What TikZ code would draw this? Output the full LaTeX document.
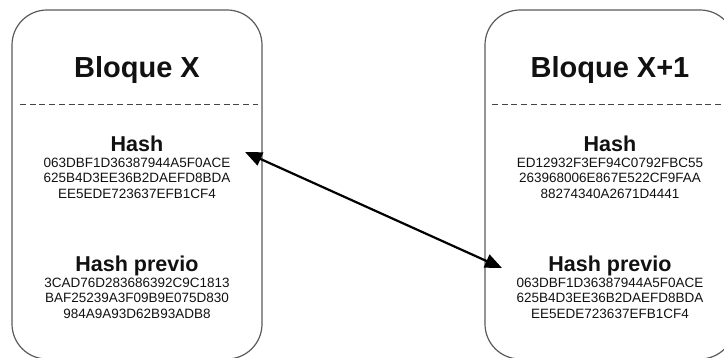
\documentclass[tikz,border=0pt]{standalone}
\usepackage{fontspec}
\setmainfont{Liberation Sans}
\usetikzlibrary{arrows.meta}
\definecolor{boxgray}{HTML}{5A5A5A}
\definecolor{dashgray}{HTML}{444444}
\definecolor{txt}{HTML}{111111}
\tikzset{
  blockbox/.style={draw=boxgray, line width=1.2pt, rounded corners=35pt},
  sepline/.style={draw=dashgray, line width=0.9pt, dash pattern=on 6pt off 3.7pt},
  titletext/.style={anchor=base, inner sep=0pt, text=txt, font=\fontsize{29}{33}\selectfont\bfseries},
  headtext/.style={anchor=base, inner sep=0pt, text=txt, font=\fontsize{21.5}{25}\selectfont\bfseries},
  hashtext/.style={anchor=base, inner sep=0pt, text=txt, align=center, font=\fontsize{13.5}{15.2}\selectfont},
  linkarrow/.style={line width=2.2pt, {Triangle[length=17pt,width=14pt]}-{Triangle[length=17pt,width=14pt]}}
}
\begin{document}
\begin{tikzpicture}[x=1pt,y=-1pt]
\useasboundingbox (0,0) rectangle (724,358);
\clip (0,0) rectangle (724,358);
% left block
\draw[blockbox] (12,10) rectangle (262,359);
\draw[sepline] (20,104) -- (258,104);
\node[titletext] (t1) at (137,78) {Bloque X};
\node[headtext] (h1) at (137,152) {Hash};
\node[hashtext, anchor=north] (v1) at (137,158) {063DBF1D36387944A5F0ACE\\625B4D3EE36B2DAEFD8BDA\\EE5EDE723637EFB1CF4};
\node[headtext] (p1) at (137,272) {Hash previo};
\node[hashtext, anchor=north] (w1) at (137,278) {3CAD76D283686392C9C1813\\BAF25239A3F09B9E075D830\\984A9A93D62B93ADB8};
% right block
\draw[blockbox] (485,10) rectangle (735,359);
\draw[sepline] (492,104) -- (724,104);
\node[titletext] (t2) at (610,78) {Bloque X+1};
\node[headtext] (h2) at (610,152) {Hash};
\node[hashtext, anchor=north] (v2) at (610,158) {ED12932F3EF94C0792FBC55\\263968006E867E522CF9FAA\\88274340A2671D4441};
\node[headtext] (p2) at (610,272) {Hash previo};
\node[hashtext, anchor=north] (w2) at (610,278) {063DBF1D36387944A5F0ACE\\625B4D3EE36B2DAEFD8BDA\\EE5EDE723637EFB1CF4};
% link
\coordinate (a1) at (245,152);
\coordinate (a2) at (502,268);
\draw[linkarrow] (a1) -- (a2);
\end{tikzpicture}
\end{document}
